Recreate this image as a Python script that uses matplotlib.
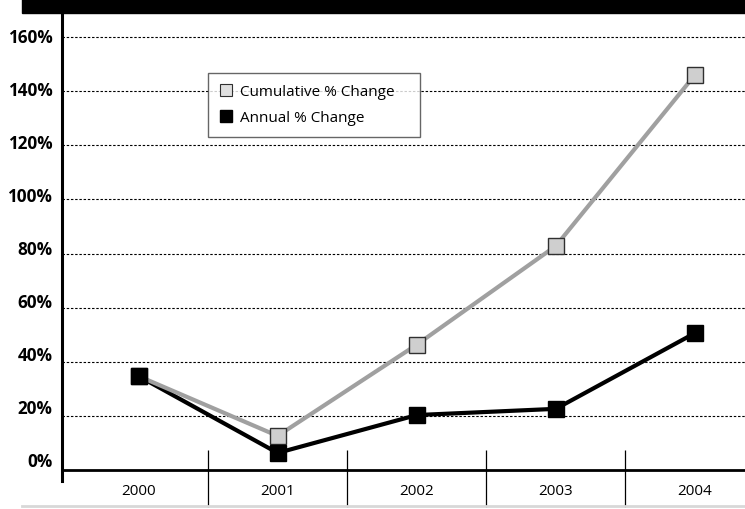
import matplotlib
matplotlib.use('Agg')
import matplotlib.pyplot as plt
from matplotlib.lines import Line2D
from matplotlib.patches import Rectangle

plt.rcParams['font.family'] = ['Open Sans', 'DejaVu Sans']

years = ['2000', '2001', '2002', '2003', '2004']
cumulative = [34.7, 12.6, 46.3, 82.8, 146.0]
annual = [34.7, 6.3, 20.3, 22.6, 50.6]
yticks = [0, 20, 40, 60, 80, 100, 120, 140, 160]
ylabels = ['0%', '20%', '40%', '60%', '80%', '100%', '120%', '140%', '160%']

W, H = 745, 510
fig = plt.figure(figsize=(W / 100, H / 100), dpi=100)
ax = fig.add_axes([62 / W, (H - 482) / H, (W - 62) / W, (482 - 14) / H])

x = list(range(len(years)))

# lines first, then markers on top
ax.plot(x, annual, color='black', lw=3, zorder=3, solid_joinstyle='miter')
ax.plot(x, cumulative, color='#a0a0a0', lw=3, zorder=4, solid_joinstyle='miter')
ax.plot(x, cumulative, ls='none', marker='s', ms=11.5, mfc='#cfcfcf',
        mec='#303030', mew=1, zorder=5)
ax.plot(x, annual, ls='none', marker='s', ms=11.5, mfc='black',
        mec='black', mew=1, zorder=6)

ax.set_xlim(-0.55, 4.36)
ax.set_ylim(-4.07, 168.9)

# dashed gridlines
ax.hlines(yticks[1:], -0.55, 4.36, colors='black', lw=0.8,
          linestyles=(0, (2.2, 1.6)), zorder=1)
ax.axhline(0, color='black', lw=2, zorder=2)

# category separators hanging below the axis
ax.vlines([i + 0.5 for i in x[:-1]], -13.7, 7.4, colors='black', lw=0.9,
          clip_on=False, zorder=2)

for s in ['top', 'right', 'bottom']:
    ax.spines[s].set_visible(False)
ax.spines['left'].set_linewidth(2.2)

# labels sit a little above their gridlines
label_pos = [v + 4.07 - 3.47 * v / 160 for v in yticks]
ax.set_yticks(label_pos)
ax.set_yticklabels(ylabels, fontsize=12.3, fontweight='bold')
ax.tick_params(axis='y', length=0, pad=7)
ax.set_xticks(x)
ax.set_xticklabels(years, fontsize=11)
ax.tick_params(axis='x', length=0, pad=1.5)

handles = [
    Line2D([], [], ls='none', marker='s', ms=8, mfc='#e0e0e0', mec='#303030', mew=0.8),
    Line2D([], [], ls='none', marker='s', ms=8, mfc='black', mec='black'),
]
aw, ah = W - 62, 482 - 14
leg = ax.legend(handles, ['Cumulative % Change', 'Annual % Change'],
                loc='upper left', mode='expand',
                bbox_to_anchor=((208 - 62) / aw, (482 - 136) / ah, (420 - 208) / aw, 62 / ah),
                fontsize=11, frameon=True, fancybox=False, edgecolor='#404040',
                handlelength=0.8, handletextpad=0.55, borderpad=0.75,
                labelspacing=0.7, borderaxespad=0)
leg.get_frame().set_linewidth(1)
leg.set_zorder(7)

# black band at the top and grey rule at the bottom
fig.patches.append(Rectangle((22 / W, (H - 14) / H), 1 - 22 / W, 14 / H,
                             transform=fig.transFigure, color='black'))
fig.lines.append(Line2D([22 / W, 1], [(H - 507) / H] * 2, transform=fig.transFigure,
                        color='#d8d8d8', lw=2))

fig.savefig('out.png', dpi=100)
